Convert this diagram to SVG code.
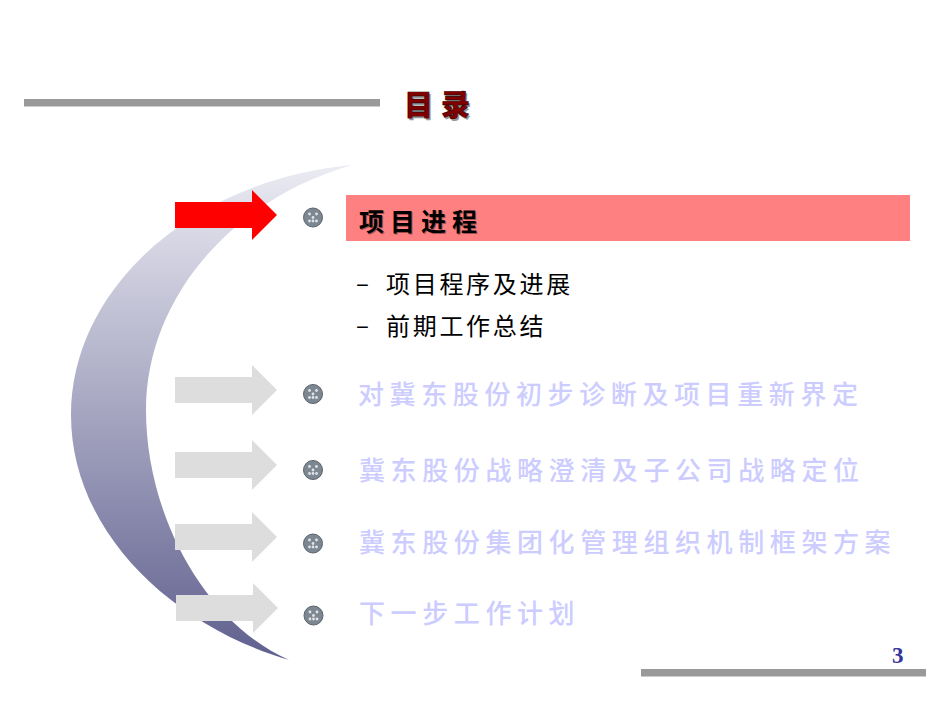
<svg xmlns="http://www.w3.org/2000/svg" width="950" height="713" viewBox="0 0 950 713">
<style>
.cjk{font-family:"Noto Sans CJK SC","Noto Sans",sans-serif}
.item{font-size:26px;letter-spacing:5.6px;fill:#ccccff;font-weight:500}
.sub{font-size:24px;letter-spacing:2.7px;fill:#000}
.head{font-size:25px;letter-spacing:6px;font-weight:700;fill:#000}
.bar{fill:#999}
.gray{fill:#ddd}
.dot{fill:#dfe3e8}
.ball{fill:#7d8791;stroke:#5a636c;stroke-width:1}
</style>
<defs>
<linearGradient id="g" x1="0" y1="0" x2="0" y2="1"><stop offset="0" stop-color="#ebebf3"/><stop offset="1" stop-color="#60608f"/></linearGradient>
<g id="b"><circle class="ball" r="9.5"/><circle class="dot" cx="-3.5" cy="-3.5" r="1.4"/><circle class="dot" cx="3.5" cy="-3.5" r="1.4"/><circle class="dot" cy="0" r="1.4"/><circle class="dot" cx="-3.5" cy="3.5" r="1.4"/><circle class="dot" cy="3.5" r="1.4"/><circle class="dot" cx="3.5" cy="3.5" r="1.4"/></g>
<polygon id="a" points="0,-13 77,-13 77,-25 102,0 77,25 77,13 0,13"/>
</defs>
<rect width="950" height="713" fill="#fff"/>
<rect class="bar" x="24" y="99" width="356" height="7.5"/>
<rect class="bar" x="641" y="669" width="285" height="7.5"/>
<g id="title"><text class="cjk" x="405.500" y="117.500" font-size="29" font-weight="900" letter-spacing="8" fill="#999">目录</text><text class="cjk" x="404" y="116" font-size="29" font-weight="900" letter-spacing="8" fill="#800000" stroke="#000" stroke-width=".4">目录</text></g>
<path id="crescent" fill="url(#g)" d="M352,165C190,180 71,290 71,415C71,530 170,625 289,660C200,620 146,510 146,410C146,300 230,200 352,165Z"/>
<g id="connectors">
<use href="#a" x="175" y="215" fill="#f00"/>
<use href="#a" x="175" y="390" class="gray"/>
<use href="#a" x="175" y="465" class="gray"/>
<use href="#a" x="175" y="537" class="gray"/>
<use href="#a" x="176" y="608" class="gray"/>
</g>
<g id="n1"><use href="#b" x="313" y="217.500"/><rect x="346" y="195" width="564" height="46" fill="#ff8080"/><text class="cjk head" x="360" y="232" style="fill:#a05050">项目进程</text><text class="cjk head" x="359" y="231">项目进程</text></g>
<g id="n1a"><text class="cjk" x="356" y="292" font-size="24">–</text><text class="cjk sub" x="386" y="292.500">项目程序及进展</text></g>
<g id="n1b"><text class="cjk" x="356" y="334" font-size="24">–</text><text class="cjk sub" x="386" y="334.500">前期工作总结</text></g>
<g id="n2"><use href="#b" x="313" y="394"/><text class="cjk item" x="358" y="403.500">对冀东股份初步诊断及项目重新界定</text></g>
<g id="n3"><use href="#b" x="313" y="470"/><text class="cjk item" x="359" y="479.500">冀东股份战略澄清及子公司战略定位</text></g>
<g id="n4"><use href="#b" x="313" y="543.500"/><text class="cjk item" x="359" y="552">冀东股份集团化管理组织机制框架方案</text></g>
<g id="n5"><use href="#b" x="313.500" y="615.500"/><text class="cjk item" x="359" y="623">下一步工作计划</text></g>
<text x="892" y="663" font-family="Liberation Serif,serif" font-weight="700" font-size="23" fill="#333399">3</text>
</svg>
